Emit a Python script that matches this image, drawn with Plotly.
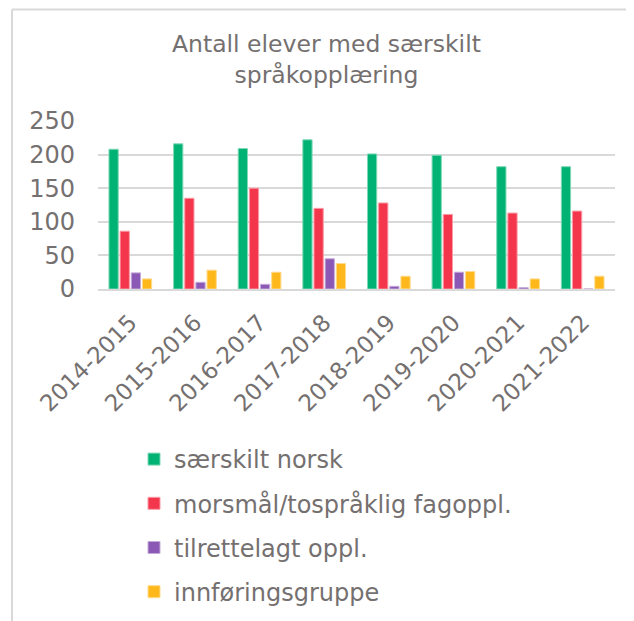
import plotly.graph_objects as go

# ---------------- data ----------------
categories = ["2014-2015", "2015-2016", "2016-2017", "2017-2018",
              "2018-2019", "2019-2020", "2020-2021", "2021-2022"]
saerskilt_norsk = [208, 216, 209, 222, 201, 199, 182, 182]
morsmaal = [86, 135, 150, 120, 128, 111, 113, 116]
tilrettelagt = [24, 10, 7, 45, 4, 25, 2, 0]
innforingsgruppe = [15, 28, 25, 38, 19, 26, 15, 19]

series_names = ["særskilt norsk", "morsmål/tospråklig fagoppl.",
                "tilrettelagt oppl.", "innføringsgruppe"]
series_values = [saerskilt_norsk, morsmaal, tilrettelagt, innforingsgruppe]
series_colors = ["#00B274", "#F4364C", "#8B58B5", "#FEB81C"]
series_edges = ["#7fd8b6", "#f99aa5", "#c5abd9", "#fedb8d"]

title_text = "Antall elever med særskilt<br>språkopplæring"
y_ticks = [0, 50, 100, 150, 200, 250]

# ---------------- layout geometry (window pixels) ----------------
WIN_W, WIN_H = 634, 621
OFF = 8                      # default page body margin
W, H = WIN_W - OFF, WIN_H - OFF
L, R, T, B = 98, 615, 121, 289   # plot area in window pixels


def px(x):
    return (x - L) / (R - L)


def py(y):
    return (B - y) / (B - T)


def cx(x):
    return (x - OFF) / W


def cy(y):
    return 1 - (y - OFF) / H


TXT = "#757070"
FONT = "DejaVu Sans"

fig = go.Figure()
for i, (name, vals, col, edge) in enumerate(zip(series_names, series_values,
                                                 series_colors, series_edges)):
    fig.add_trace(go.Bar(
        x=categories, y=vals, name=name,
        marker=dict(color=col, line=dict(color=edge, width=1)),
        legendgroup=f"g{i}",
    ))

fig.update_layout(
    width=W, height=H,
    margin=dict(l=L - OFF, r=WIN_W - R, t=T - OFF, b=WIN_H - B, pad=0,
                autoexpand=False),
    paper_bgcolor="white", plot_bgcolor="white",
    barmode="group", bargap=0.31, bargroupgap=0.17,
    font=dict(family=FONT, color=TXT, size=24),
    showlegend=True,
    legend=dict(
        xref="container", yref="container",
        x=cx(134), xanchor="left", y=cy(437), yanchor="top",
        font=dict(family=FONT, size=24, color=TXT),
        tracegroupgap=10, traceorder="grouped",
        bgcolor="rgba(0,0,0,0)", borderwidth=0,
    ),
    xaxis=dict(
        type="category", tickangle=-45, automargin=False,
        showgrid=False, showline=True, linecolor="#d9d9d9", linewidth=2,
        ticks="", tickfont=dict(family=FONT, size=23, color=TXT),
        ticklabelstandoff=9,
    ),
    yaxis=dict(
        range=[0, 250], tickvals=y_ticks, automargin=False,
        showgrid=True, gridcolor="#d9d9d9", gridwidth=1.5,
        zeroline=False, showline=False, ticks="",
        tickfont=dict(family=FONT, size=24, color=TXT),
        ticklabelstandoff=22,
    ),
)

# title
fig.add_annotation(
    text=title_text, xref="paper", yref="paper",
    x=px(326.5), y=py(59), xanchor="center", yanchor="middle",
    showarrow=False, font=dict(family=FONT, size=23.5, color=TXT),
)

# text above the chart (cut off at the top edge in the reference)
fig.add_annotation(
    text="Tall for Sola:", xref="paper", yref="paper",
    x=px(0), y=py(11), xanchor="left", yanchor="bottom",
    showarrow=False, font=dict(family=FONT, size=24, color="#222222"),
)

# chart border (left + top)
fig.add_shape(type="line", xref="paper", yref="paper",
              x0=px(12), x1=px(12), y0=py(9.5), y1=py(660),
              line=dict(color="#d9d9d9", width=2))
fig.add_shape(type="line", xref="paper", yref="paper",
              x0=px(12), x1=px(680), y0=py(9.5), y1=py(9.5),
              line=dict(color="#d9d9d9", width=2))

fig.write_html("out.html")
